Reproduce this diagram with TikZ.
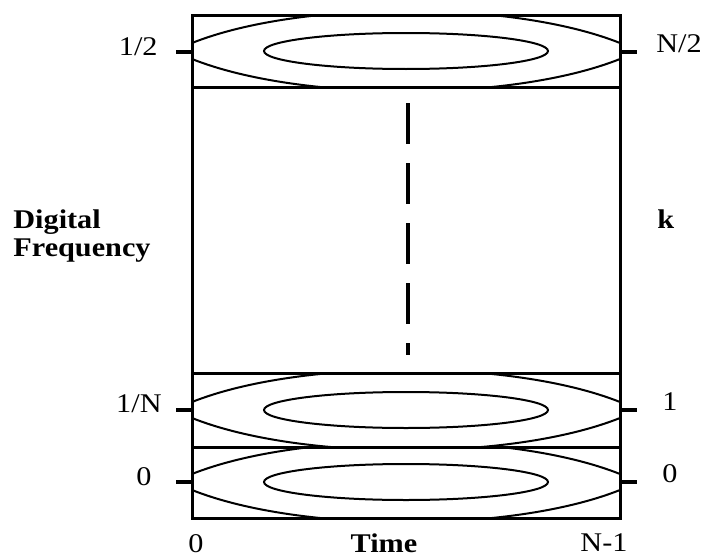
\documentclass[tikz,border=0pt]{standalone}
\usepackage{fontspec}
\setmainfont{Liberation Serif}[FakeStretch=1.12]
\usepackage{tikz}
\usetikzlibrary{positioning}
\tikzset{
  tfedge/.style={draw=black, line width=1.5pt},
  tfcontour/.style={draw=black, line width=1pt},
  tftick/.style={draw=black, line width=2pt},
  tfdash/.style={draw=black, line width=1.6pt, dash pattern=on 20.5pt off 9.5pt},
  tflabel/.style={inner sep=0pt, font=\fontsize{13.5}{15}\selectfont},
  tfbold/.style={inner sep=0pt, font=\fontsize{13.5}{15}\selectfont\bfseries},
}

\begin{document}
\begin{tikzpicture}[x=0.5pt, y=-0.5pt]
  \useasboundingbox (0,0) rectangle (702,557);

  % contour bands (centre / top / bottom)
  \foreach \cy/\top/\bot in {51/15/87, 410/373/447, 482/447/518} {
    \begin{scope}
      \clip (192,\top) rectangle (620,\bot);
      \draw[tfcontour] (192,{\cy-8}) .. controls (300,{\cy-51}) and (512,{\cy-51}) .. (620,{\cy-8});
      \draw[tfcontour] (192,{\cy+8}) .. controls (300,{\cy+51}) and (512,{\cy+51}) .. (620,{\cy+8});
    \end{scope}
    \draw[tfcontour] (406,\cy) ellipse [x radius=142, y radius=18];
  }

  % frame
  \draw[tfedge] (192,15) rectangle (620,518);
  \draw[tfedge] (192,87) -- (620,87);
  \draw[tfedge] (192,373) -- (620,373);
  \draw[tfedge] (192,447) -- (620,447);

  \draw[tfdash] (408,103) -- (408,355);

  % ticks
  \coordinate (lhalf) at (192,52);
  \coordinate (lone)  at (192,410);
  \coordinate (lzero) at (192,482);
  \coordinate (rhalf) at (620,52);
  \coordinate (rone)  at (620,410);
  \coordinate (rzero) at (620,482);
  \draw[tftick] (lhalf) -- ++(-16,0);
  \draw[tftick] (lone)  -- ++(-16,0);
  \draw[tftick] (lzero) -- ++(-16,0);
  \draw[tftick] (rhalf) -- ++(17,0);
  \draw[tftick] (rone)  -- ++(17,0);
  \draw[tftick] (rzero) -- ++(17,0);

  % labels
  \node[tflabel, anchor=base east] (halflab) at (158,55)  {1/2};
  \node[tflabel, anchor=base east] (invnlab) at (162,412) {1/N};
  \node[tflabel, anchor=base east] (zerolab) at (152,485) {0};
  \node[tflabel, anchor=base west] (nhalflab) at (656,53)  {N/2};
  \node[tflabel, anchor=base west] (onelab)   at (662,410) {1};
  \node[tflabel, anchor=base west] (rzerolab) at (662,482) {0};
  \node[tfbold, anchor=base west] (klab) at (657,228) {k};
  \node[tfbold, anchor=base west] (digital) at (13,228) {Digital};
  \node[tfbold, anchor=base west] (freq)    at (13,256) {Frequency};
  \node[tflabel, anchor=base] (tzero) at (196,552) {0};
  \node[tfbold, anchor=base]  (time)  at (384,552) {Time};
  \node[tflabel, anchor=base] (tend)  at (604,551) {N-1};
\end{tikzpicture}
\end{document}
